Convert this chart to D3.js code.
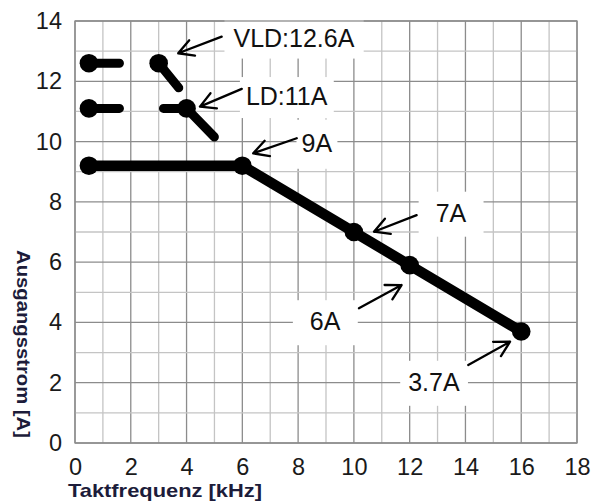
<!DOCTYPE html>
<html><head><meta charset="utf-8">
<script src="https://cdn.jsdelivr.net/npm/d3@7"></script>
<style>html,body{margin:0;padding:0;background:#fff;} svg{display:block;}</style>
</head><body><svg id="chart" width="598" height="504"></svg>
<script>
// ---- data ----
const xTicks = [0, 2, 4, 6, 8, 10, 12, 14, 16, 18];
const yTicks = [0, 2, 4, 6, 8, 10, 12, 14];
const xTitle = "Taktfrequenz [kHz]";
const yTitle = "Ausgangsstrom [A]";

const mainFreq = [0.5, 6, 10, 12, 16];
const mainCurrent = [9.2, 9.2, 7, 5.9, 3.7];
const ldFreq = [0.5, 4, 6];
const ldCurrent = [11.1, 11.1, 9.2];
const ldDotFreq = [0.5, 4];
const ldDotCurrent = [11.1, 11.1];
const vldFreq = [0.5, 3, 6];
const vldCurrent = [12.6, 12.6, 9.2];
const vldDotFreq = [0.5, 3];
const vldDotCurrent = [12.6, 12.6];

const labelTexts = ["VLD:12.6A", "LD:11A", "9A", "7A", "6A", "3.7A"];
// annotation anchors (data units)
const labelAt = [[7.85, 13.45], [7.59, 11.51], [8.67, 9.96], [13.48, 7.64], [8.97, 4.04], [12.87, 2.03]];
const arrowTail = [[5.26, 13.48], [5.98, 11.75], [7.95, 10.11], [12.25, 7.56], [10.18, 4.47], [14.1, 2.59]];
const arrowTip = [[3.70, 12.93], [4.48, 11.16], [6.39, 9.61], [10.72, 7.01], [11.71, 5.24], [15.6, 3.36]];

// ---- style ----
const boxPad = [[9, 7], [6, 8], [5, 12], [17, 10], [17, 10], [8, 10]];
const FONT = "'Liberation Sans', Arial, Helvetica, sans-serif";

const svg = d3.select("#chart");
const x = d3.scaleLinear().domain([0, 18]).range([75, 577]);
const y = d3.scaleLinear().domain([0, 14]).range([443, 21]);

// grid
const g = svg.append("g");
d3.range(0, 19).forEach(v => {
  g.append("line").attr("x1", x(v)).attr("x2", x(v)).attr("y1", y(0)).attr("y2", y(14))
    .attr("stroke", v % 2 === 0 ? "#8c8c8c" : "#c4c4c4").attr("stroke-width", 1.3);
});
d3.range(0, 15).forEach(v => {
  g.append("line").attr("x1", x(0)).attr("x2", x(18)).attr("y1", y(v)).attr("y2", y(v))
    .attr("stroke", v % 2 === 0 ? "#8c8c8c" : "#c4c4c4").attr("stroke-width", 1.3);
});

// label boxes (white, hide grid)
const labelG = svg.append("g");
const texts = labelTexts.map((t, i) => {
  const tx = labelG.append("text")
    .attr("x", x(labelAt[i][0])).attr("y", y(labelAt[i][1]))
    .attr("text-anchor", "middle").attr("dy", "0.36em")
    .attr("font-family", FONT).attr("font-size", 25).attr("fill", "#111")
    .text(t);
  return tx;
});
texts.forEach((tx, i) => {
  const b = tx.node().getBBox();
  labelG.insert("rect", "text")
    .attr("x", b.x - boxPad[i][0]).attr("y", b.y - boxPad[i][1] + 3)
    .attr("width", b.width + 2 * boxPad[i][0]).attr("height", b.height + 2 * boxPad[i][1] - 3)
    .attr("fill", "#fff");
});

// plot border
svg.append("rect").attr("x", x(0)).attr("y", y(14)).attr("width", x(18) - x(0)).attr("height", y(0) - y(14))
  .attr("fill", "none").attr("stroke", "#8c8c8c").attr("stroke-width", 1.3);

// axes tick labels
const xAxis = svg.append("g").attr("transform", `translate(0,${y(0)})`)
  .call(d3.axisBottom(x).tickValues(xTicks).tickSize(0).tickPadding(15).tickFormat(d3.format("d")));
const yAxis = svg.append("g").attr("transform", `translate(${x(0)},0)`)
  .call(d3.axisLeft(y).tickValues(yTicks).tickSize(0).tickPadding(13).tickFormat(d3.format("d")));
[xAxis, yAxis].forEach(a => {
  a.select(".domain").remove();
  a.selectAll("text").attr("font-family", FONT).attr("font-size", 23.5).attr("fill", "#1a1a1a");
});

// axis titles
svg.append("text").attr("x", 165).attr("y", 497).attr("text-anchor", "middle")
  .attr("font-family", FONT).attr("font-weight", "bold").attr("font-size", 19)
  .attr("fill", "#1c1c3a").attr("textLength", 194).attr("lengthAdjust", "spacingAndGlyphs")
  .text(xTitle);
svg.append("text").attr("transform", "translate(17,344) rotate(90)").attr("text-anchor", "middle")
  .attr("font-family", FONT).attr("font-weight", "bold").attr("font-size", 18.5)
  .attr("fill", "#1c1c3a").attr("textLength", 188).attr("lengthAdjust", "spacingAndGlyphs")
  .text(yTitle);

// series
const line = d3.line().x(d => x(d[0])).y(d => y(d[1]));
const zip = (a, b) => a.map((v, i) => [v, b[i]]);

svg.append("path").datum(zip(vldFreq, vldCurrent)).attr("d", line)
  .attr("fill", "none").attr("stroke", "#000").attr("stroke-width", 9)
  .attr("stroke-linecap", "round").attr("stroke-linejoin", "round")
  .attr("stroke-dasharray", "30.5 44 27 1000");
svg.append("path").datum(zip(ldFreq, ldCurrent)).attr("d", line)
  .attr("fill", "none").attr("stroke", "#000").attr("stroke-width", 9)
  .attr("stroke-linecap", "round").attr("stroke-linejoin", "round")
  .attr("stroke-dasharray", "30.5 44 63 1000");
svg.append("path").datum(zip(mainFreq, mainCurrent)).attr("d", line)
  .attr("fill", "none").attr("stroke", "#000").attr("stroke-width", 10.5)
  .attr("stroke-linejoin", "round");

const dots = zip(mainFreq, mainCurrent).concat(zip(ldDotFreq, ldDotCurrent), zip(vldDotFreq, vldDotCurrent));
svg.append("g").selectAll("circle").data(dots).join("circle")
  .attr("cx", d => x(d[0])).attr("cy", d => y(d[1])).attr("r", 9.3).attr("fill", "#000");

// arrows
const arrG = svg.append("g").attr("stroke", "#000").attr("stroke-width", 2.3).attr("fill", "none")
  .attr("stroke-linecap", "round").attr("stroke-linejoin", "round");
arrowTip.forEach((tip, i) => {
  const tx = x(tip[0]), ty = y(tip[1]);
  const sx = x(arrowTail[i][0]), sy = y(arrowTail[i][1]);
  const ang = Math.atan2(sy - ty, sx - tx);
  const L = 17, h = 0.5;
  const p = d3.path();
  p.moveTo(sx, sy); p.lineTo(tx, ty);
  p.moveTo(tx + L * Math.cos(ang - h), ty + L * Math.sin(ang - h));
  p.lineTo(tx, ty);
  p.lineTo(tx + L * Math.cos(ang + h), ty + L * Math.sin(ang + h));
  arrG.append("path").attr("d", p.toString());
});
</script>
</body></html>
